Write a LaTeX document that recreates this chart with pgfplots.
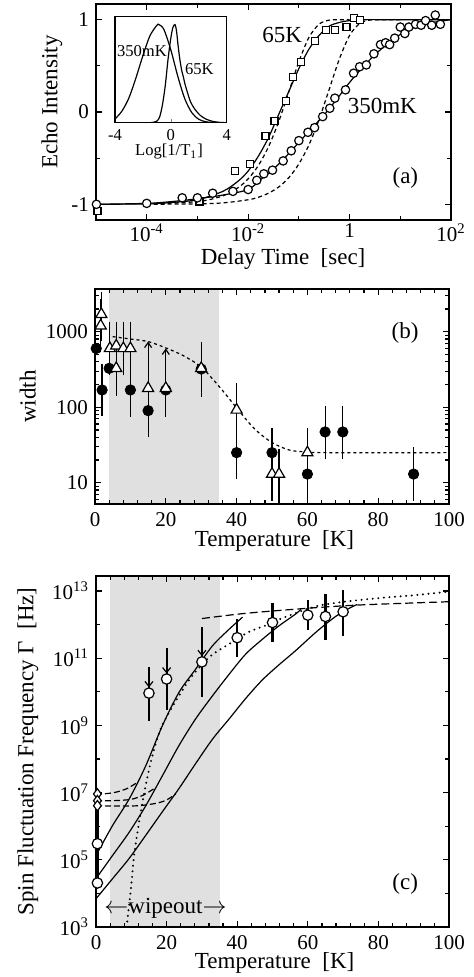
\documentclass[border=0pt]{standalone}
\usepackage{fontspec}
\setmainfont{Liberation Serif}
\usepackage{pgfplots}
\pgfplotsset{compat=1.18}
\usetikzlibrary{arrows.meta}
\definecolor{band}{gray}{0.88}
\pgfplotsset{
 myaxis/.style={scale only axis, anchor=south west, clip=false, axis on top,
   axis line style={line width=0.9pt},
   font=\fontsize{11.5}{13}\selectfont,
   tick label style={font=\fontsize{10.5}{12}\selectfont},
   major tick length=3pt, minor tick length=1.8pt,
   every tick/.style={black, line width=0.6pt},
   xticklabel style={inner sep=0pt, yshift=-3.83pt}},
 crv/.style={black, line width=0.6pt, smooth},
}
\begin{document}
\begin{tikzpicture}
\path[use as bounding box] (0,0) rectangle (236.5pt,-488.5pt);

% ---------------- panel (a)
\begin{axis}[myaxis, at={(48pt,-110pt)}, width=177.5pt, height=108pt,
  xmode=log, xmin=1e-5, xmax=1e2, ymin=-1.17, ymax=1.17,
  xtick={1e-4,1e-2,1,1e2},
  xticklabels={10\textsuperscript{-4},10\textsuperscript{-2},1,10\textsuperscript{2}},
  xticklabel style={yshift=2pt},
  minor xtick={1e-5,1e-3,1e-1,1e1},
  ytick={-1,0,1}, yticklabels={-1,0,1}, minor ytick={-0.5,0.5},
  xlabel={Delay Time\ \ [sec]}, ylabel={Echo Intensity},
  xlabel style={at={(axis description cs:0.527,-0.18)},anchor=center,inner sep=0pt},
  ylabel style={at={(axis description cs:-0.124,0.546)},anchor=center,inner sep=0pt}]
\addplot[crv] coordinates {(1e-5,-1) (1e-4,-0.995) (3.16e-4,-0.98) (1e-3,-0.95) (3.16e-3,-0.86) (6.31e-3,-0.75) (1e-2,-0.64) (1.585e-2,-0.48) (2.51e-2,-0.28) (3.98e-2,-0.03) (6.31e-2,0.22) (0.1,0.47) (0.158,0.68) (0.251,0.83) (0.398,0.93) (0.631,0.97) (1,0.99) (2,1) (5,1) (100,1)};
\addplot[crv, dash pattern=on 2pt off 1.5pt] coordinates {(1e-4,-0.997) (1e-3,-0.971) (3.16e-3,-0.909) (6.31e-3,-0.821) (1e-2,-0.724) (1.585e-2,-0.581) (2.51e-2,-0.379) (3.98e-2,-0.109) (6.31e-2,0.215) (0.1,0.545) (0.1585,0.809) (0.251,0.952) (0.398,0.995) (0.631,1) (1,1)};
\addplot[crv, dash pattern=on 2pt off 1.5pt] coordinates {(1e-4,-1) (1e-3,-0.995) (3.16e-3,-0.985) (1e-2,-0.951) (1.585e-2,-0.924) (2.51e-2,-0.880) (3.98e-2,-0.814) (6.31e-2,-0.713) (0.1,-0.563) (0.1585,-0.355) (0.251,-0.079) (0.398,0.248) (0.631,0.576) (1,0.829) (1.585,0.959) (2.51,0.996) (3.98,1) (10,1)};
\addplot[crv] coordinates {(1e-5,-1) (1e-4,-0.99) (3.16e-4,-0.97) (1e-3,-0.94) (3.16e-3,-0.9) (1e-2,-0.84) (1.778e-2,-0.73) (3.16e-2,-0.62) (5.623e-2,-0.48) (0.1,-0.33) (0.1778,-0.18) (0.316,-0.03) (0.5623,0.14) (1,0.32) (1.778,0.48) (3.16,0.62) (5.623,0.74) (10,0.84) (17.78,0.91) (31.6,0.95) (56.23,0.98) (100,1)};
% 65K squares
\addplot[only marks, mark=square*, mark size=1.75pt, mark options={fill=white, draw=black, line width=0.6pt}] coordinates {(1.07e-5,-1.07) (1.10e-3,-0.97) (5.50e-3,-0.64) (1.10e-2,-0.56) (2.19e-2,-0.26) (3.31e-2,-0.10) (5.50e-2,0.12) (7.59e-2,0.38) (0.112,0.54) (0.209,0.77) (0.339,0.89) (0.525,0.89) (0.871,0.92) (1.23,1.02) (1.58,1.00)};
% 350mK circles
\addplot[only marks, mark=*, mark size=2.1pt, mark options={fill=white, draw=black, line width=0.6pt}] coordinates {(1.02e-5,-1.0) (1e-4,-0.99) (5.01e-4,-0.93) (1e-3,-0.93) (2.0e-3,-0.88) (5.01e-3,-0.86) (1e-2,-0.84) (1.48e-2,-0.74) (2.04e-2,-0.67) (3.02e-2,-0.63) (4.90e-2,-0.53) (7.08e-2,-0.42) (0.1,-0.31) (0.151,-0.22) (0.204,-0.17) (0.295,-0.05) (0.407,0.04) (0.513,0.15) (0.832,0.24) (1.20,0.42) (1.58,0.49) (2.14,0.51) (3.02,0.63) (4.07,0.73) (5.13,0.75) (6.17,0.73) (7.76,0.80) (10.0,0.92) (12.3,0.85) (14.8,0.92) (20.0,0.95) (25.7,0.94) (31.6,0.99) (41.7,0.94) (49.0,1.05) (61.7,0.95)};
\node at (axis cs:0.0468,0.83) {65K};
\node at (axis cs:4.42,0.065) {350mK};
\node at (axis cs:12.6,-0.71) {(a)};
\end{axis}

% ---------------- inset
\begin{axis}[at={(57.5pt,-61.35pt)}, anchor=south west, scale only axis,
  width=55.85pt, height=53pt, xmin=-4, xmax=4, ymin=0, ymax=1,
  xtick={-4,0,4}, xticklabels={-4,0,4}, ytick=\empty, xtick pos=bottom,
  font=\fontsize{8.3}{9.5}\selectfont, major tick length=2pt,
  axis line style={line width=0.8pt},
  axis background/.style={fill=white},
  xlabel={Log[1/T\textsubscript{1}]},
  xlabel style={at={(axis description cs:0.483,-0.276)},anchor=center,inner sep=0pt}]
\addplot[crv] coordinates {(-4,0.035) (-3.5,0.11) (-3,0.235) (-2.5,0.423) (-2,0.633) (-1.5,0.819) (-1,0.919) (-0.85,0.925) (-0.5,0.880) (0,0.686) (0.5,0.436) (1,0.225) (1.5,0.095) (2,0.032) (2.5,0.009) (3,0.002) (4,0)};
\addplot[crv] coordinates {(-1.5,0) (-1.2,0.005) (-1,0.015) (-0.8,0.055) (-0.6,0.17) (-0.4,0.35) (-0.2,0.6) (0,0.8) (0.15,0.9) (0.3,0.925) (0.4,0.87) (0.5,0.75) (0.6,0.64) (0.7,0.55) (0.8,0.48) (0.9,0.43) (1.0,0.37) (1.2,0.28) (1.4,0.2) (1.7,0.13) (2.1,0.07) (2.5,0.035) (3,0.012) (3.5,0.003) (4,0)};
\node at (axis cs:-2.07,0.68) {350mK};
\node at (axis cs:2.04,0.504) {65K};
\end{axis}

% ---------------- panel (b)
\begin{axis}[myaxis, at={(47.5pt,-252pt)}, width=177pt, height=107.5pt,
  ymode=log, xmin=0, xmax=100, ymin=5.22, ymax=3680,
  xtick={0,20,40,60,80,100}, xticklabels={0,20,40,60,80,100}, minor x tick num=4,
  ytick={10,100,1000}, yticklabels={10,100,1000},
  minor ytick={6,7,8,9,20,30,40,50,60,70,80,90,200,300,400,500,600,700,800,900,2000,3000},
  xlabel={Temperature\ \ [K]}, ylabel={width},
  xlabel style={at={(axis description cs:0.507,-0.17)},anchor=center,inner sep=0pt},
  ylabel style={at={(axis description cs:-0.19,0.5)},anchor=center,inner sep=0pt}]
\addplot[fill=band, draw=none] coordinates {(4,5.22) (35,5.22) (35,3680) (4,3680)} -- cycle;
\addplot[crv, dash pattern=on 1.5pt off 1.5pt] coordinates {(5,860) (10,800) (15,740) (20,610) (25,480) (30,340) (35,190) (40,98) (45,52) (50,34) (55,27) (60,25.5) (65,25) (100,25)};
% filled circles
\addplot[only marks, mark=*, mark size=2.6pt, black, error bars/.cd, y dir=both, y explicit,
  error bar style={line width=0.6pt}, error mark options={mark size=2pt, line width=0.6pt}]
 coordinates {(2,169) += (0,161) -= (0,82) (10,169) += (0,161) -= (0,84) (15,90) += (0,90) -= (0,45) (20,169) += (0,161) -= (0,84) (30,320) += (0,320) -= (0,165) (40,25) += (0,25) -= (0,12.5) (50,25) += (0,22) -= (0,12.5) (60,13) += (0,13) -= (0,6.5) (65,47) += (0,45) -= (0,24) (70,47) += (0,45) -= (0,24) (90,13) += (0,13) -= (0,6.5)};
\addplot[only marks, mark=*, mark size=2.6pt, black] coordinates {(0.35,600) (4,327)};
% up arrows
\addplot[black, line width=0.6pt, -{Straight Barb[length=2.5pt,width=3.5pt]}] coordinates {(15,178) (15,740)};
\addplot[black, line width=0.6pt, -{Straight Barb[length=2.5pt,width=3.5pt]}] coordinates {(20,178) (20,600)};
% triangles
\addplot[only marks, mark=triangle*, mark size=3.2pt, mark options={fill=white, draw=black, line width=0.6pt},
  error bars/.cd, y dir=both, y explicit,
  error bar style={line width=0.6pt}, error mark options={mark size=2pt, line width=0.6pt}]
 coordinates {(1.8,1700) += (0,1300) -= (0,850) (1.6,1200) += (0,1200) -= (0,600) (4.2,600) += (0,600) -= (0,300) (6,327) += (0,323) -= (0,167) (6,650) += (0,550) -= (0,320) (8,600) += (0,600) -= (0,300) (10,600) += (0,600) -= (0,300) (30,327) += (0,323) -= (0,167) (40,92) += (0,93) -= (0,47) (50,13) += (0,13) -= (0,6.5) (52,13) += (0,12) -= (0,6.5) (60,25) += (0,22) -= (0,12.5)};
\addplot[only marks, mark=triangle*, mark size=3.2pt, mark options={fill=white, draw=black, line width=0.6pt}] coordinates {(15,178) (20,178)};
\node at (axis cs:87.6,950) {(b)};
\end{axis}

% ---------------- panel (c)
\begin{axis}[myaxis, at={(48pt,-463.5pt)}, width=176.5pt, height=175.5pt,
  ymode=log, xmin=0, xmax=100, ymin=1e3, ymax=2.79e13,
  xtick={0,20,40,60,80,100}, xticklabels={0,20,40,60,80,100}, minor x tick num=4,
  ytick={1e3,1e5,1e7,1e9,1e11,1e13},
  yticklabels={10\textsuperscript{3},10\textsuperscript{5},10\textsuperscript{7},10\textsuperscript{9},10\textsuperscript{11},10\textsuperscript{13}},
  minor ytick={1e4,1e6,1e8,1e10,1e12},
  xlabel={Temperature\ \ [K]}, ylabel={Spin Fluctuation Frequency Γ\ \ [Hz]},
  xlabel style={at={(axis description cs:0.506,-0.103)},anchor=center,inner sep=0pt},
  ylabel style={at={(axis description cs:-0.193,0.5)},anchor=center,inner sep=0pt}]
\addplot[fill=band, draw=none] coordinates {(4,1e3) (35,1e3) (35,2.79e13) (4,2.79e13)} -- cycle;
% solid curves
\addplot[crv] coordinates {(0,1.35e5) (4.7,1.05e6) (9.4,6.46e6) (14.1,6.31e7) (18.8,9.77e8) (23.5,9.55e9) (28.2,4.68e10) (33,2.34e11) (37.7,7.24e11) (41.5,1.66e12)};
\addplot[crv] coordinates {(0,2.75e4) (4.7,1.35e5) (9.4,6.61e5) (14.1,4.07e6) (18.8,3.16e7) (23.5,2.51e8) (28.2,1.55e9) (33,7.59e9) (37.7,3.31e10) (42.4,1.32e11) (47.1,3.63e11) (51.8,9.12e11) (56.5,2.04e12) (58,2.82e12)};
\addplot[crv] coordinates {(0,6.92e3) (4.7,2.75e4) (9.4,1.10e5) (14.1,5.37e5) (18.8,2.69e6) (23.5,1.32e7) (28.2,7.24e7) (33,3.89e8) (37.7,1.55e9) (42.4,6.31e9) (47.1,2.24e10) (51.8,6.31e10) (56.5,1.66e11) (62.6,6.31e11) (68,1.78e12) (72,3.16e12) (74,3.98e12)};
% dashed curves
\addplot[crv, dash pattern=on 3pt off 1.5pt] coordinates {(0,9.12e6) (3,9.33e6) (6,1.05e7) (9,1.35e7) (11.8,2.04e7)};
\addplot[crv, dash pattern=on 3pt off 1.5pt] coordinates {(0,5.75e6) (5,5.75e6) (10,6.31e6) (13.5,8.51e6) (16.9,1.41e7)};
\addplot[crv, dash pattern=on 3pt off 1.5pt] coordinates {(0,4.07e6) (6,3.98e6) (12,4.07e6) (17,4.79e6) (20,6.03e6) (22.6,9.12e6)};
\addplot[crv, dash pattern=on 4pt off 2pt] coordinates {(30,1.51e12) (42,2.14e12) (58,2.95e12) (74,3.80e12) (100,4.79e12)};
% dotted curve
\addplot[black, line width=1.1pt, line cap=round, dash pattern=on 0pt off 2.8pt, smooth] coordinates {(8.7,1e3) (9.0,2.0e3) (9.9,1.38e4) (10.8,1.35e5) (12.2,1.32e6) (13.7,1.02e7) (15.5,7.94e7) (17.9,6.17e8) (20.2,1.95e9) (23.5,7.59e9) (27.3,3.02e10) (32.5,1.17e11) (37.7,2.63e11) (43.3,6.03e11) (49,1.02e12) (53.2,1.62e12) (62.6,3.55e12) (72,5.01e12) (81.4,6.31e12) (90.9,7.59e12) (100,9.55e12)};
% thick bar at T=0
\addplot[black, line width=1.6pt] coordinates {(0.4,4.07e6) (0.4,2.04e4)};
% data with error bars
\addplot[only marks, mark=*, mark size=2.6pt, mark options={fill=white, draw=black, line width=0.6pt},
  error bars/.cd, y dir=both, y explicit, error bar style={line width=1.1pt}, error mark=none]
 coordinates {(15,9.12e9) += (0,4.71e10) -= (0,7.74e9) (20,2.40e10) += (0,1.76e11) -= (0,2.105e10) (30,7.76e10) += (0,7.93e11) -= (0,7.05e10) (40,4.07e11) += (0,1.04e12) -= (0,3.02e11) (50,1.15e12) += (0,3.12e12) -= (0,8.41e11) (60,1.91e12) += (0,3.34e12) -= (0,1.23e12) (65,1.74e12) += (0,6.58e12) -= (0,1.385e12) (70,2.40e12) += (0,8.1e12) -= (0,1.94e12)};
% down arrows (upper limits)
\addplot[black, line width=0.6pt, -{Straight Barb[length=2.5pt,width=4pt]}] coordinates {(15,3e10) (15,1.35e10)};
\addplot[black, line width=0.6pt, -{Straight Barb[length=2.5pt,width=4pt]}] coordinates {(20,1e11) (20,3.5e10)};
\addplot[black, line width=0.6pt, -{Straight Barb[length=2.5pt,width=4pt]}] coordinates {(30,4e11) (30,1.15e11)};
% T = 0 points
\addplot[only marks, mark=*, mark size=2.6pt, mark options={fill=white, draw=black, line width=0.6pt}] coordinates {(0.4,3.02e5) (0.4,2.04e4)};
\addplot[only marks, mark=diamond*, mark size=2.6pt, mark options={fill=white, draw=black, line width=0.6pt}] coordinates {(0.4,9.12e6) (0.4,5.75e6) (0.4,4.07e6)};
\node at (axis cs:19.7,3.51e3) {$\leftarrow$wipeout$\rightarrow$};
\node at (axis cs:87.6,1.95e4) {(c)};
\end{axis}
\end{tikzpicture}
\end{document}
